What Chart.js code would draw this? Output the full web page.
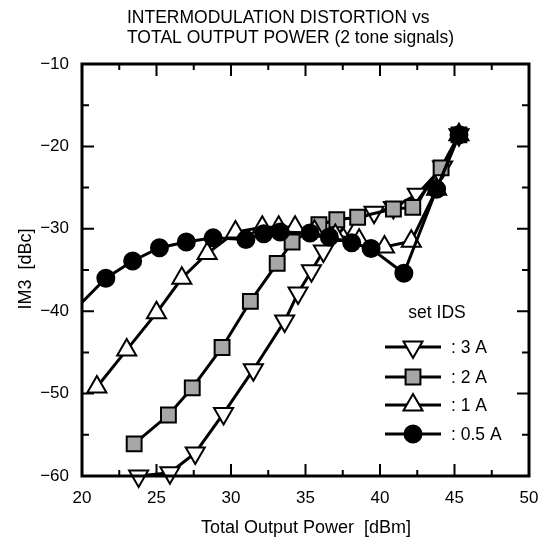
<!DOCTYPE html>
<html>
<head>
<meta charset="utf-8">
<script src="https://cdn.jsdelivr.net/npm/chart.js@4/dist/chart.umd.min.js"></script>
<style>
  html, body { margin: 0; padding: 0; background: #fff; }
  #wrap { width: 545px; height: 545px; }
</style>
</head>
<body>
<div id="wrap"><canvas id="chart"></canvas></div>
<script>
// IM3 vs total output power, 2 tone signals, four IDS settings

const titleLines = ['INTERMODULATION DISTORTION vs', 'TOTAL OUTPUT POWER (2 tone signals)'];
const xTitle = 'Total Output Power  [dBm]';
const yTitle = 'IM3  [dBc]';
const legendTitle = 'set IDS';
const seriesLabels = [': 3 A', ': 2 A', ': 1 A', ': 0.5 A'];

// tick layout
const xMin = 20, xMax = 50, xMajor = 5, xMinor = 2.5;
const yMin = -60, yMax = -10, yMajor = 10, yMinor = 5;

// IDS = 3 A (down triangles)
const power3A = [23.8, 25.9, 27.6, 29.5, 31.5, 33.6, 34.5, 35.4, 36.2, 37.8, 39.6, 40.9, 42.5, 44.2, 45.3];
const im3A    = [-60.0, -59.6, -57.2, -52.4, -47.1, -41.2, -37.8, -35.1, -32.7, -29.4, -28.0, -27.4, -25.8, -22.5, -18.6];

// IDS = 2 A (grey squares)
const power2A = [23.5, 25.8, 27.4, 29.4, 31.3, 33.1, 34.1, 35.9, 37.1, 38.5, 40.9, 42.2, 44.1, 45.3];
const im2A    = [-56.1, -52.6, -49.3, -44.4, -38.8, -34.2, -31.6, -29.5, -28.9, -28.6, -27.6, -27.4, -22.6, -18.6];

// IDS = 1 A (up triangles)
const power1A = [21.0, 23.0, 25.0, 26.7, 28.4, 30.3, 32.1, 33.2, 34.3, 35.6, 37.0, 38.6, 40.3, 42.1, 43.8, 45.3];
const im1A    = [-49.2, -44.7, -40.2, -36.0, -33.0, -30.4, -29.8, -29.8, -29.8, -30.3, -30.8, -31.4, -32.2, -31.5, -25.2, -18.6];

// IDS = 0.5 A (filled circles), first point lies just left of the axis
const power05A = [19.2, 21.6, 23.4, 25.2, 27.0, 28.8, 31.0, 32.2, 33.3, 35.3, 36.6, 38.1, 39.4, 41.6, 43.8, 45.3];
const im05A    = [-40.4, -36.0, -33.9, -32.3, -31.6, -31.1, -31.3, -30.6, -30.4, -30.5, -31.0, -31.7, -32.4, -35.4, -25.2, -18.6];

const FONT = 'Liberation Sans, Arial, Helvetica, sans-serif';

function toPoints(xs, ys) {
  return xs.map((x, i) => ({ x: x, y: ys[i] }));
}

const markerStyles = [
  { pointStyle: 'triangle', rotation: 180, radius: 11, fill: '#ffffff' },
  { pointStyle: 'rect', rotation: 0, radius: 10.5, fill: '#a6a6a6' },
  { pointStyle: 'triangle', rotation: 0, radius: 11, fill: '#ffffff' },
  { pointStyle: 'circle', rotation: 0, radius: 8.5, fill: '#000000' }
];

function makeDataset(label, xs, ys, m, order, clip) {
  const ds = {
    label: label,
    data: toPoints(xs, ys),
    borderColor: '#000',
    borderWidth: 3,
    tension: 0,
    fill: false,
    pointStyle: m.pointStyle,
    pointRotation: m.rotation,
    pointRadius: m.radius,
    pointHoverRadius: m.radius,
    pointBackgroundColor: m.fill,
    pointBorderColor: '#000',
    pointBorderWidth: 2,
    order: order
  };
  if (clip !== undefined) ds.clip = clip;
  return ds;
}

// frame, inward ticks, titles and the in-plot legend
const decorPlugin = {
  id: 'decor',
  afterDraw(chart) {
    const ctx = chart.ctx;
    const a = chart.chartArea;
    const xs = chart.scales.x, ys = chart.scales.y;
    ctx.save();

    // frame
    ctx.strokeStyle = '#000';
    ctx.lineWidth = 3;
    ctx.strokeRect(a.left, a.top, a.right - a.left, a.bottom - a.top);

    // inward ticks on all four sides
    ctx.lineWidth = 2;
    ctx.beginPath();
    for (let v = xMin + xMinor; v < xMax - 1e-6; v += xMinor) {
      const px = xs.getPixelForValue(v);
      const len = Math.abs(v % xMajor) < 1e-6 ? 12 : 6;
      ctx.moveTo(px, a.bottom); ctx.lineTo(px, a.bottom - len);
      ctx.moveTo(px, a.top); ctx.lineTo(px, a.top + len);
    }
    for (let v = yMin + yMinor; v < yMax - 1e-6; v += yMinor) {
      const py = ys.getPixelForValue(v);
      const len = Math.abs(v % yMajor) < 1e-6 ? 12 : 7;
      ctx.moveTo(a.left, py); ctx.lineTo(a.left + len, py);
      ctx.moveTo(a.right, py); ctx.lineTo(a.right - len, py);
    }
    ctx.stroke();

    // chart title (left aligned, two lines)
    ctx.fillStyle = '#000';
    ctx.font = '17.5px ' + FONT;
    ctx.textAlign = 'left';
    ctx.textBaseline = 'middle';
    ctx.fillText(titleLines[0], 127, 18);
    ctx.fillText(titleLines[1], 127, 38);

    // axis titles
    ctx.font = '18px ' + FONT;
    ctx.textAlign = 'center';
    ctx.fillText(xTitle, 306, 528);
    ctx.save();
    ctx.translate(26, 269);
    ctx.rotate(-Math.PI / 2);
    ctx.fillText(yTitle, 0, 0);
    ctx.restore();

    // legend
    ctx.font = '17.5px ' + FONT;
    ctx.fillText(legendTitle, 437, 313);
    const rowY = [347, 377, 405, 434];
    ctx.textAlign = 'left';
    for (let i = 0; i < seriesLabels.length; i++) {
      const y = rowY[i];
      const m = markerStyles[i];
      ctx.strokeStyle = '#000';
      ctx.lineWidth = 3;
      ctx.beginPath();
      ctx.moveTo(385, y); ctx.lineTo(441, y);
      ctx.stroke();
      ctx.fillStyle = m.fill;
      ctx.lineWidth = 2;
      Chart.helpers.drawPoint(ctx, {
        pointStyle: m.pointStyle, rotation: m.rotation, radius: m.radius, borderWidth: 2
      }, 413, y);
      ctx.fillStyle = '#000';
      ctx.fillText(seriesLabels[i], 451, y + 1);
    }
    ctx.restore();
  }
};

new Chart(document.getElementById('chart'), {
  type: 'line',
  data: {
    datasets: [
      makeDataset('3 A', power3A, im3A, markerStyles[0], 3, false),
      makeDataset('2 A', power2A, im2A, markerStyles[1], 2),
      makeDataset('1 A', power1A, im1A, markerStyles[2], 1),
      makeDataset('0.5 A', power05A, im05A, markerStyles[3], 0)
    ]
  },
  options: {
    responsive: true,
    maintainAspectRatio: false,
    animation: false,
    layout: { padding: { left: 0, top: 64, right: 16, bottom: 0 } },
    plugins: {
      legend: { display: false },
      title: { display: false },
      tooltip: { enabled: false }
    },
    scales: {
      x: {
        type: 'linear',
        min: xMin,
        max: xMax,
        grid: { display: false, drawTicks: false },
        border: { display: false },
        ticks: {
          stepSize: xMajor,
          color: '#000',
          padding: 12,
          maxRotation: 0,
          font: { family: FONT, size: 17 }
        },
        afterFit(scale) {
          scale.height = 69;
          scale.paddingLeft = 0;
          scale.paddingRight = 0;
        }
      },
      y: {
        type: 'linear',
        min: yMin,
        max: yMax,
        grid: { display: false, drawTicks: false },
        border: { display: false },
        ticks: {
          stepSize: yMajor,
          color: '#000',
          padding: 13,
          font: { family: FONT, size: 17 },
          callback: v => String(v).replace('-', '\u2212')
        },
        afterFit(scale) {
          scale.width = 82;
          scale.paddingTop = 0;
          scale.paddingBottom = 0;
        }
      }
    }
  },
  plugins: [decorPlugin]
});
</script>
</body>
</html>
